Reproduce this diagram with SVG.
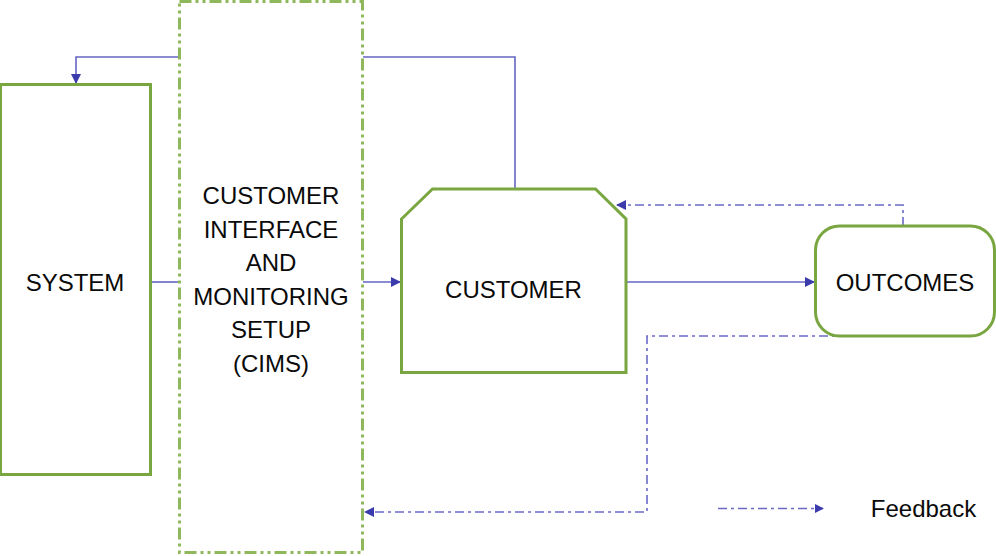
<svg xmlns="http://www.w3.org/2000/svg" width="996" height="556" viewBox="0 0 996 556">
<style>
  .box { fill: #ffffff; stroke: #7aa641; stroke-width: 3; }
  .cims { fill: none; stroke: #8fb85c; stroke-width: 3; stroke-dasharray: 12 4 3 4 3 4; }
  .lbl { font-family: "Liberation Sans", Arial, sans-serif; font-size: 24px; fill: #0a0a0a; text-anchor: middle; }
  .conn { fill: none; stroke: #6565c2; stroke-width: 1.6; }
  .fb { fill: none; stroke: #6a6ac6; stroke-width: 1.6; stroke-dasharray: 9 4 3 4; }
</style>
<defs>
  <marker id="arr" viewBox="0 0 10 10" refX="9" refY="5" markerWidth="9" markerHeight="9" markerUnits="userSpaceOnUse" orient="auto">
    <path d="M0,0 L10,5 L0,10 z" fill="#3b3bab"/>
  </marker>
  <marker id="arrL" viewBox="0 0 10 10" refX="9" refY="5" markerWidth="10" markerHeight="10" markerUnits="userSpaceOnUse" orient="auto">
    <path d="M0,0 L10,5 L0,10 z" fill="#3b3bab"/>
  </marker>
</defs>
<rect width="996" height="556" fill="#ffffff"/>

<g id="connectors">
  <polyline class="conn" points="179,57 76,57 76,83" marker-end="url(#arrL)"/>
  <polyline class="conn" points="363,57 515,57 515,188"/>
  <line class="conn" x1="151" y1="282" x2="179" y2="282"/>
  <line class="conn" x1="363" y1="282" x2="400" y2="282" marker-end="url(#arrL)"/>
  <line class="conn" x1="626" y1="282" x2="814" y2="282" marker-end="url(#arrL)"/>
  <polyline class="fb" points="903,226 903,205 617,205" marker-end="url(#arrL)"/>
  <polyline class="fb" points="928,336 647,336 647,512 365,512" marker-end="url(#arrL)"/>
</g>

<g id="system">
  <rect class="box" x="0.5" y="84.5" width="150" height="390"/>
  <text class="lbl" x="75" y="291">SYSTEM</text>
</g>

<g id="cims">
  <rect class="cims" x="179.5" y="1.5" width="183" height="551"/>
  <text class="lbl" x="271" y="204">CUSTOMER</text>
  <text class="lbl" x="271" y="237.5">INTERFACE</text>
  <text class="lbl" x="271" y="271">AND</text>
  <text class="lbl" x="271" y="304.5">MONITORING</text>
  <text class="lbl" x="271" y="338">SETUP</text>
  <text class="lbl" x="271" y="371.5">(CIMS)</text>
</g>

<g id="customer">
  <polygon class="box" points="401.5,219 432.5,189 595.5,189 626,219 626,372.5 401.5,372.5"/>
  <text class="lbl" x="513.5" y="298">CUSTOMER</text>
</g>

<g id="outcomes">
  <rect class="box" x="815.5" y="226" width="179" height="110" rx="24" ry="24"/>
  <text class="lbl" x="905" y="291">OUTCOMES</text>
</g>

<g id="legend">
  <line class="fb" x1="718" y1="508.5" x2="823" y2="508.5" marker-end="url(#arr)"/>
  <text class="lbl" x="923.5" y="517">Feedback</text>
</g>
</svg>
